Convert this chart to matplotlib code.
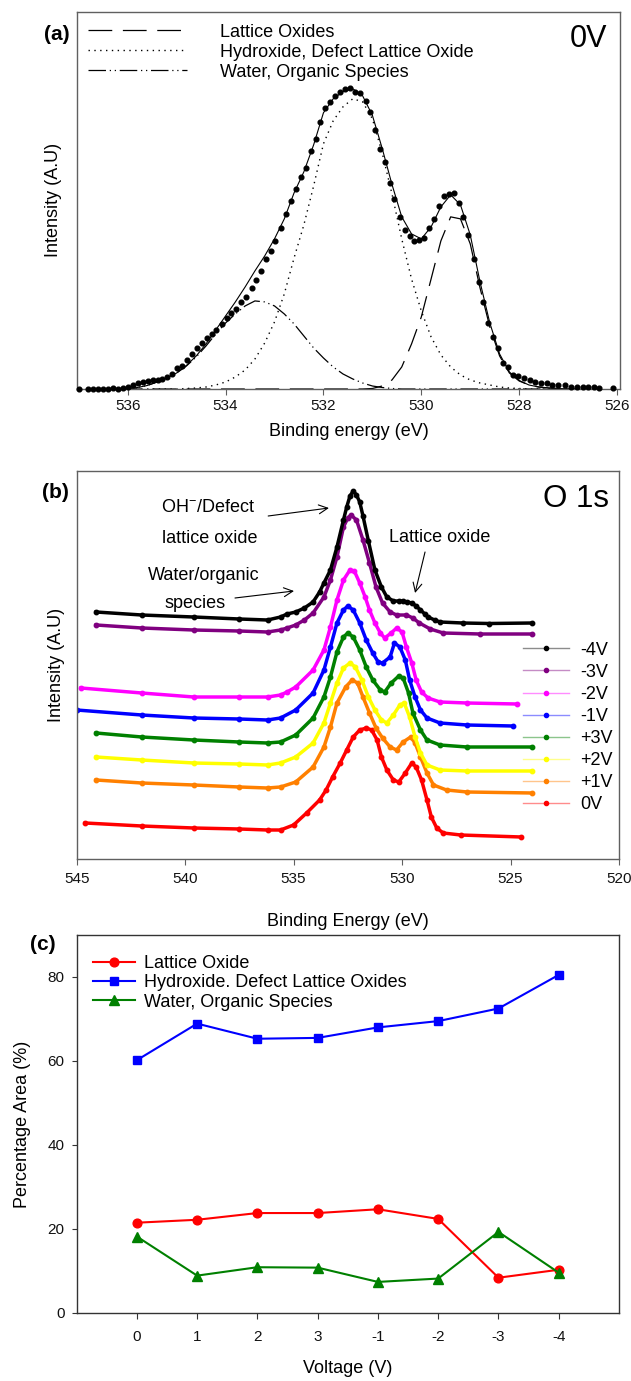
import matplotlib
matplotlib.use("Agg")
import matplotlib.pyplot as plt
import matplotlib.colors as mcolors
from matplotlib.lines import Line2D
import numpy as np

plt.rcParams["font.family"] = ["Liberation Sans", "DejaVu Sans"]
plt.rcParams["mathtext.fontset"] = "custom"
plt.rcParams["mathtext.rm"] = "Liberation Sans"
plt.rcParams["mathtext.default"] = "regular"

# ------------------------------------------------------------------
# (a) O 1s spectrum at 0V with fitted components (intensity in a.u.)
# ------------------------------------------------------------------
a_be = [537.00, 536.81, 536.71, 536.60, 536.50, 536.40, 536.30, 536.19, 536.09, 535.99,
        535.90, 535.79, 535.69, 535.59, 535.49, 535.39, 535.29, 535.20, 535.10,
        534.99, 534.89, 534.79, 534.69, 534.58, 534.48, 534.38, 534.28, 534.19, 534.08,
        533.98, 533.88, 533.78, 533.68, 533.58, 533.47, 533.37, 533.28, 533.17, 533.07,
        532.98, 532.87, 532.77, 532.67, 532.56, 532.46, 532.36, 532.26, 532.15, 532.07,
        531.96, 531.86, 531.76, 531.66, 531.55, 531.45, 531.35, 531.25, 531.14, 531.04,
        530.94, 530.84, 530.74, 530.65, 530.55, 530.44, 530.34, 530.24, 530.14, 530.04,
        529.95, 529.84, 529.74, 529.64, 529.54, 529.43, 529.34, 529.24, 529.14, 529.04,
        528.93, 528.83, 528.73, 528.63, 528.53, 528.43, 528.33, 528.22, 528.12, 528.02,
        527.90, 527.78, 527.67, 527.55, 527.44, 527.32, 527.20, 527.07,
        526.95, 526.82, 526.70, 526.59, 526.48, 526.37, 526.08]
a_int = [0, 0, 0, 0, 0, 0, 0.5, 0, 0.5, 2.3,
         4, 6, 7, 8, 9, 9, 10.3, 12.3, 14.7,
         21, 23.3, 29, 35, 40.7, 46.3, 50.7, 54.7, 59, 65,
         70.7, 75.7, 80.3, 87, 92, 100.7, 108.7, 118.3, 129.7, 137.7,
         148, 161.3, 175, 188.3, 199.7, 211.7, 221.3, 238, 249.7, 266.3,
         281, 286.3, 293, 297, 299.7, 300.3, 297, 296, 287.3, 276.3,
         259, 240, 227.3, 206.3, 189.7, 172.3, 159, 153, 147.7, 149,
         151.3, 160.7, 169.7, 183, 193, 195, 195.7, 185.7, 171.7, 154,
         130, 107.3, 87.3, 65.7, 51.7, 40.7, 26.3, 22.3, 14, 13,
         10.7, 9, 7.3, 6.3, 5.7, 4, 3.7, 3.7,
         2.3, 1.7, 2.3, 2.3, 1.7, 0.7, 0.7]

fit_be = [536.2, 536.0, 535.8, 535.6, 535.4, 535.2, 535.0, 534.8, 534.6, 534.4,
          534.2, 534.0, 533.8, 533.6, 533.4, 533.2, 533.0, 532.8, 532.6, 532.4,
          532.2, 532.0, 531.8, 531.6, 531.4, 531.2, 531.0, 530.8, 530.6, 530.4,
          530.2, 530.0, 529.8, 529.6, 529.4, 529.2, 529.0, 528.8, 528.6, 528.4,
          528.2, 528.0, 527.8, 527.6, 527.4, 527.2, 527.0, 526.8]
fit_water = [0, 0.5, 1.5, 3.5, 7, 11, 16, 23, 32, 43,
             55, 66, 75, 83, 88, 87, 83, 75, 65, 53,
             41, 31, 22, 15, 10, 6, 3, 1.5, 0.5, 0,
             0, 0, 0, 0, 0, 0, 0, 0, 0, 0,
             0, 0, 0, 0, 0, 0, 0, 0]
fit_hydroxide = [0, 0, 0, 0, 0, 0, 0, 0.5, 1, 2,
                 4, 7, 12, 19, 30, 46, 67, 95, 131, 164,
                 203, 245, 268, 282, 290, 287, 270, 236, 195, 150,
                 110, 78, 52, 34, 22, 14, 9, 6, 4, 2,
                 1, 0.5, 0, 0, 0, 0, 0, 0]
fit_lattice = [0, 0, 0, 0, 0, 0, 0, 0, 0, 0,
               0, 0, 0, 0, 0, 0, 0, 0, 0, 0,
               0, 0, 0, 0, 0, 0, 0.5, 3, 9, 22,
               45, 72, 110, 148, 172, 170, 145, 101, 62, 33,
               16, 8, 4, 2, 1, 0.5, 0, 0]

# ------------------------------------------------------------------
# (b) O 1s spectra at different bias voltages (offset, a.u.)
# ------------------------------------------------------------------
be_m4 = [544.1, 542.0, 539.6, 537.5, 536.2, 535.6, 535.3, 534.9, 534.5, 534.1, 533.8,
         533.6, 533.3, 533.0, 532.7, 532.55, 532.4, 532.25, 532.1, 531.95, 531.8,
         531.55, 531.25, 530.95, 530.7, 530.4, 530.15, 529.95, 529.75, 529.55,
         529.35, 529.15, 528.95, 528.8, 528.5, 528.25, 527.2, 526.0, 524.0]
int_m4 = [247, 244, 242, 240, 239, 242, 245, 247, 251, 257, 267,
          276, 289, 312, 339, 352, 363, 368, 364, 357, 343,
          318, 289, 272, 262, 258, 258, 258, 257, 256,
          253, 249, 245, 242, 239, 237, 236, 235.5, 236]

be_m3 = [544.1, 542.0, 539.6, 537.5, 536.2, 535.6, 535.3, 534.9, 534.5, 534.1,
         533.6, 533.3, 533.0, 532.7, 532.5, 532.35, 532.1, 531.8, 531.5, 531.2,
         530.9, 530.55, 530.25, 529.8, 529.5, 529.2, 528.7, 528.1, 526.4, 524.0]
int_m3 = [234, 231, 229, 228, 227, 229, 231, 234, 239, 246,
          262, 279, 302, 332, 341, 344, 339, 319, 296, 272,
          256, 247, 244, 244, 241, 236, 230, 226, 225, 225]

be_m2 = [544.8, 542.0, 539.6, 537.5, 536.2, 535.6, 535.3, 534.9, 534.1,
         533.6, 533.3, 533.0, 532.7, 532.4, 532.2, 531.95, 531.7, 531.5, 531.25,
         531.0, 530.8, 530.5, 530.25, 530.0, 529.8, 529.55, 529.35, 529.1, 528.8,
         528.25, 527.0, 524.7]
int_m2 = [171, 166, 162, 162, 162, 164, 167, 172, 189,
          209, 232, 259, 279, 289, 288, 276, 262, 249, 236,
          226, 221, 226, 231, 227, 212, 196, 179, 167, 161,
          157, 156, 155]

be_m1 = [545.0, 542.0, 539.6, 537.5, 536.2, 535.6, 534.9, 534.1, 533.6, 533.3,
         533.0, 532.7, 532.5, 532.25, 531.95, 531.65, 531.35, 531.1, 530.9, 530.55,
         530.35, 530.1, 529.85, 529.65, 529.4, 529.15, 528.85, 528.25, 527.0, 524.9]
int_m1 = [149, 144, 141, 140, 139, 141, 149, 166, 189, 212,
          236, 249, 253, 249, 236, 219, 206, 197, 196, 202,
          216, 212, 199, 179, 162, 149, 141, 136, 134, 133]

be_p3 = [544.1, 542.0, 539.6, 537.5, 536.2, 535.6, 534.9, 534.1, 533.6, 533.3,
         533.0, 532.7, 532.5, 532.25, 531.95, 531.65, 531.35, 531.0, 530.8, 530.5,
         530.15, 529.95, 529.7, 529.5, 529.15, 528.85, 528.25, 527.0, 524.0]
int_p3 = [126, 122, 119, 117, 116, 117, 124, 141, 162, 182,
          207, 222, 226, 222, 209, 192, 179, 169, 167, 176,
          183, 181, 166, 146, 129, 119, 114, 112, 112]

be_p2 = [544.1, 542.0, 539.6, 537.5, 536.2, 535.6, 534.9, 534.1, 533.6, 533.3,
         533.0, 532.7, 532.4, 532.15, 531.85, 531.55, 531.25, 530.95, 530.7, 530.4,
         530.1, 529.9, 529.65, 529.4, 529.15, 528.85, 528.25, 527.0, 524.0]
int_p2 = [102, 99, 96, 95, 94, 96, 102, 116, 136, 156,
          176, 191, 196, 192, 179, 162, 149, 139, 136, 144,
          154, 156, 142, 122, 106, 94, 89, 88, 88]

be_p1 = [544.1, 542.0, 539.6, 537.5, 536.2, 535.6, 534.9, 534.1, 533.6, 533.3,
         533.0, 532.6, 532.3, 532.05, 531.8, 531.5, 531.2, 530.9, 530.55, 530.25,
         529.95, 529.6, 529.4, 529.15, 528.85, 528.55, 527.95, 527.0, 524.0]
int_p1 = [79, 76, 74, 72, 71, 72, 77, 92, 112, 132,
          156, 172, 179, 176, 162, 146, 131, 121, 112, 109,
          117, 122, 116, 102, 86, 74, 69, 67, 66]

be_0 = [544.6, 542.0, 539.6, 537.5, 536.2, 535.6, 535.0, 534.4, 533.8, 533.5,
        533.2, 532.85, 532.55, 532.25, 531.95, 531.65, 531.4, 531.15, 530.95, 530.7,
        530.4, 530.15, 529.85, 529.55, 529.35, 529.1, 528.85, 528.65, 528.4, 528.1,
        527.3, 524.5]
int_0 = [36, 33, 31, 30, 29, 29, 34, 46, 59, 69,
         82, 96, 109, 122, 129, 131, 129, 119, 102, 89,
         79, 77, 86, 96, 92, 79, 59, 42, 31, 26,
         24, 22]

spectra_labels = ["-4V", "-3V", "-2V", "-1V", "+3V", "+2V", "+1V", "0V"]

# ------------------------------------------------------------------
# (c) peak area fractions vs. voltage
# ------------------------------------------------------------------
voltages = ["0", "1", "2", "3", "-1", "-2", "-3", "-4"]
lattice_pct = [21.5, 22.2, 23.8, 23.8, 24.7, 22.4, 8.4, 10.3]
hydroxide_pct = [60.2, 68.9, 65.3, 65.5, 68.0, 69.5, 72.5, 80.5]
water_pct = [18.2, 8.9, 10.9, 10.8, 7.4, 8.2, 19.3, 9.6]

# ------------------------------------------------------------------
W, H = 631, 1381
fig = plt.figure(figsize=(W / 100, H / 100), dpi=100)


def box(l, t, r, b):
    return [l / W, 1 - b / H, (r - l) / W, (b - t) / H]


def style_box(ax, color):
    for s in ax.spines.values():
        s.set_color(color)
        s.set_linewidth(1.0)
    ax.tick_params(direction="out", length=4, width=0.8, color=color,
                   labelsize=11, labelcolor="#111111")


ax_a = fig.add_axes(box(77.3, 11.7, 619.5, 389))
ax_b = fig.add_axes(box(76.6, 471, 619, 859))
ax_c = fig.add_axes(box(76.6, 935, 619, 1313))

# --- panel (a) ---
envelope = np.array(fit_water) + np.array(fit_hydroxide) + np.array(fit_lattice)
ax_a.plot(fit_be, envelope, color="black", lw=0.8)
ax_a.plot(fit_be, fit_lattice, color="black", lw=0.9, ls=(0, (19, 8.5)),
          label="Lattice Oxides")
ax_a.plot(fit_be, fit_hydroxide, color="black", lw=1.0, ls=(0, (1, 3.2)),
          label="Hydroxide, Defect Lattice Oxide")
ax_a.plot(fit_be, fit_water, color="black", lw=0.9, ls=(0, (14, 3, 1, 3, 1, 3)),
          label="Water, Organic Species")
ax_a.plot(a_be, a_int, "o", color="black", ms=3.4, clip_on=False, zorder=4)
ax_a.set_xlim(537.03, 525.95)
ax_a.set_ylim(0, 377)
ax_a.set_yticks([])
ax_a.set_xticks([536, 534, 532, 530, 528, 526])
style_box(ax_a, "#606060")
ax_a.set_xlabel("Binding energy (eV)", fontsize=13, labelpad=7)
ax_a.set_ylabel("Intensity (A.U)", fontsize=13, labelpad=11)
ax_a.legend(loc="upper left", bbox_to_anchor=(0.02, 0.968), frameon=False,
            fontsize=13, handlelength=5.5, handletextpad=1.8, labelspacing=0.16,
            borderpad=0, borderaxespad=0)

# --- panel (b) ---
spectra = [(be_m4, int_m4, "black"), (be_m3, int_m3, "#800080"),
           (be_m2, int_m2, "#ff00ff"), (be_m1, int_m1, "#0000ff"),
           (be_p3, int_p3, "#008000"), (be_p2, int_p2, "#ffff00"),
           (be_p1, int_p1, "#ff8000"), (be_0, int_0, "#ff0000")]
for be, inten, c in spectra[::-1]:
    ax_b.plot(be, inten, color=c, lw=2.5, marker="o", ms=3.2)
handles = [Line2D([], [], color=mcolors.to_rgba(c, 0.45), lw=1.0, marker="o",
                  ms=3, markerfacecolor=c, markeredgecolor=c, label=lab)
           for (_, _, c), lab in zip(spectra, spectra_labels)]
ax_b.set_xlim(545, 520)
ax_b.set_ylim(0, 388)
ax_b.set_yticks([])
ax_b.set_xticks([545, 540, 535, 530, 525, 520])
style_box(ax_b, "#606060")
ax_b.tick_params(axis="x", pad=5.5)
ax_b.set_xlabel("Binding Energy (eV)", fontsize=13, labelpad=19)
ax_b.set_ylabel("Intensity (A.U)", fontsize=13, labelpad=8)
ax_b.legend(handles=handles, loc="upper left", bbox_to_anchor=(0.823, 0.560),
            frameon=False, fontsize=13, handlelength=2.55, handletextpad=0.6,
            labelspacing=0.28, borderpad=0, borderaxespad=0)

ax_b.text(541.11, 352, "OH$^{-}$/Defect", fontsize=13, va="center")
ax_b.text(541.06, 321, "lattice oxide", fontsize=13, va="center")
ax_b.text(541.71, 284, "Water/organic", fontsize=13, va="center")
ax_b.text(540.97, 256, "species", fontsize=13, va="center")
ax_b.text(530.60, 322, "Lattice oxide", fontsize=13, va="center")
arrow = dict(arrowstyle="->", lw=0.8, color="black", mutation_scale=16,
             shrinkA=0, shrinkB=0)
ax_b.annotate("", xy=(533.37, 351), xytext=(536.17, 343), arrowprops=arrow)
ax_b.annotate("", xy=(534.98, 268), xytext=(537.70, 261), arrowprops=arrow)
ax_b.annotate("", xy=(529.40, 266), xytext=(528.94, 307), arrowprops=arrow)

# --- panel (c) ---
x = np.arange(len(voltages))
ax_c.plot(x, lattice_pct, color="#ff0000", lw=1.5, marker="o", ms=6.3,
          label="Lattice Oxide")
ax_c.plot(x, hydroxide_pct, color="#0000ff", lw=1.5, marker="s", ms=5.5,
          label="Hydroxide. Defect Lattice Oxides")
ax_c.plot(x, water_pct, color="#008000", lw=1.5, marker="^", ms=6.5,
          label="Water, Organic Species")
ax_c.set_xlim(-1, 8)
ax_c.set_ylim(0, 90)
ax_c.set_xticks(x)
ax_c.set_xticklabels(voltages)
ax_c.set_yticks([0, 20, 40, 60, 80])
style_box(ax_c, "#333333")
ax_c.tick_params(axis="x", pad=8)
ax_c.tick_params(axis="y", pad=5, length=3.6)
ax_c.set_xlabel("Voltage (V)", fontsize=13, labelpad=12)
ax_c.set_ylabel("Percentage Area (%)", fontsize=13, labelpad=12)
ax_c.legend(loc="upper left", bbox_to_anchor=(0.031, 0.947), frameon=False,
            fontsize=13, handlelength=2.3, handletextpad=0.5,
            labelspacing=0.13, borderpad=0, borderaxespad=0)

# --- panel tags and inset titles ---
fig.text(44 / W, 1 - 35 / H, "(a)", fontsize=15, fontweight="bold", va="center")
fig.text(42 / W, 1 - 492 / H, "(b)", fontsize=15, fontweight="bold", va="center")
fig.text(30 / W, 1 - 945 / H, "(c)", fontsize=15, fontweight="bold", va="center")
fig.text(607 / W, 1 - 39 / H, "0V", fontsize=22, ha="right", va="center")
fig.text(609 / W, 1 - 499 / H, "O 1s", fontsize=22.5, ha="right", va="center")

fig.savefig("out.png", dpi=100)
